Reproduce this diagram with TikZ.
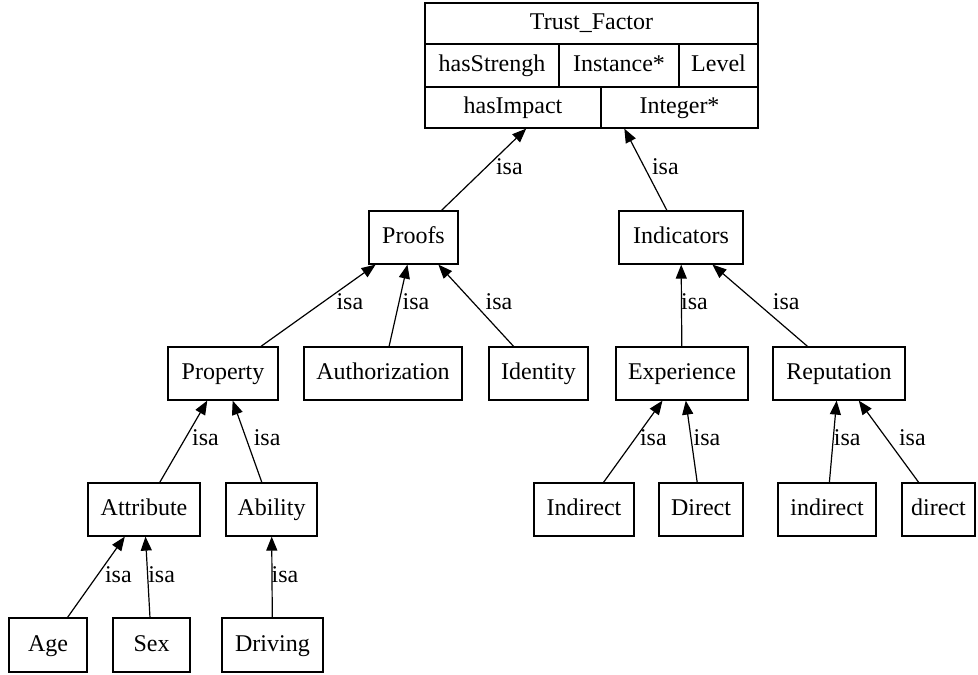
\documentclass[tikz,border=0pt]{standalone}
\usepackage{fontspec}
\setmainfont{Liberation Serif}
\usetikzlibrary{arrows.meta}
\begin{document}
\begin{tikzpicture}[x=1pt,y=-1pt,
  cls/.style={draw, line width=1.2pt, inner sep=0pt, minimum height=53pt, text height=19pt, text depth=7pt, font=\fontsize{24}{28}\selectfont},
  fld/.style={inner sep=0pt, text height=19pt, text depth=7pt, font=\fontsize{24}{28}\selectfont},
  isa/.style={line width=1.2pt, -{Triangle[length=14pt,width=11pt]}},
  lbl/.style={inner sep=0pt, text height=21pt, text depth=7pt, font=\fontsize{24}{28}\selectfont}]
\useasboundingbox[fill=white] (0,0) rectangle (978,675);

\node[cls, minimum width=333pt, minimum height=125pt] (tf) at (591.5,65.5) {};
\draw[line width=1.2pt] (425,44) -- (758,44);
\draw[line width=1.2pt] (425,87) -- (758,87);
\draw[line width=1.2pt] (559,44) -- (559,87);
\draw[line width=1.2pt] (679,44) -- (679,87);
\draw[line width=1.2pt] (601,87) -- (601,128);
\node[fld] (tfname) at (591.5,23.5) {Trust\_Factor};
\node[fld] (strengh) at (492,65.5) {hasStrengh};
\node[fld] (instance) at (619,65.5) {Instance*};
\node[fld] (level) at (718.5,65.5) {Level};
\node[fld] (impact) at (513,107.5) {hasImpact};
\node[fld] (integer) at (679.5,107.5) {Integer*};

\node[cls, minimum width=89pt] (proofs) at (413.5,237.5) {Proofs};
\node[cls, minimum width=124pt] (indicators) at (681,237.5) {Indicators};

\node[cls, minimum width=110pt] (property) at (223,373.5) {Property};
\node[cls, minimum width=158pt] (authorization) at (383,373.5) {Authorization};
\node[cls, minimum width=99pt] (identity) at (538.5,373.5) {Identity};
\node[cls, minimum width=132pt] (experience) at (682,373.5) {Experience};
\node[cls, minimum width=132pt] (reputation) at (839,373.5) {Reputation};

\node[cls, minimum width=112pt] (attribute) at (144,509.5) {Attribute};
\node[cls, minimum width=91pt] (ability) at (271.5,509.5) {Ability};
\node[cls, minimum width=100pt] (indirectE) at (584,509.5) {Indirect};
\node[cls, minimum width=84pt] (directE) at (701,509.5) {Direct};
\node[cls, minimum width=98pt] (indirectR) at (827,509.5) {indirect};
\node[cls, minimum width=73pt] (directR) at (938.5,509.5) {direct};

\node[cls, minimum width=78pt, minimum height=54pt] (age) at (48,645) {Age};
\node[cls, minimum width=77pt, minimum height=54pt] (sex) at (151.5,645) {Sex};
\node[cls, minimum width=101pt, minimum height=54pt] (driving) at (272.5,645) {Driving};

\draw[isa] (proofs) -- node[lbl, pos=.53, xshift=23pt] {isa} (tf);
\draw[isa] (indicators) -- node[lbl, pos=.53, xshift=21pt] {isa} (tf);

\draw[isa] (property) -- node[lbl, pos=.54, xshift=27pt] {isa} (proofs);
\draw[isa] (authorization) -- node[lbl, pos=.54, xshift=17pt] {isa} (proofs);
\draw[isa] (identity) -- node[lbl, pos=.54, xshift=26pt] {isa} (proofs);
\draw[isa] (experience) -- node[lbl, pos=.54, xshift=13pt] {isa} (indicators);
\draw[isa] (reputation) -- node[lbl, pos=.54, xshift=30pt] {isa} (indicators);

\draw[isa] (attribute) -- node[lbl, pos=.54, xshift=20pt] {isa} (property);
\draw[isa] (ability) -- node[lbl, pos=.54, xshift=21pt] {isa} (property);
\draw[isa] (indirectE) -- node[lbl, pos=.54, xshift=18pt] {isa} (experience);
\draw[isa] (directE) -- node[lbl, pos=.54, xshift=16pt] {isa} (experience);
\draw[isa] (indirectR) -- node[lbl, pos=.54, xshift=14pt] {isa} (reputation);
\draw[isa] (directR) -- node[lbl, pos=.54, xshift=26pt] {isa} (reputation);

\draw[isa] (age) -- node[lbl, pos=.52, xshift=21pt] {isa} (attribute);
\draw[isa] (sex) -- node[lbl, pos=.52, xshift=14pt] {isa} (attribute);
\draw[isa] (driving) -- node[lbl, pos=.52, xshift=13pt] {isa} (ability);

\end{tikzpicture}
\end{document}
